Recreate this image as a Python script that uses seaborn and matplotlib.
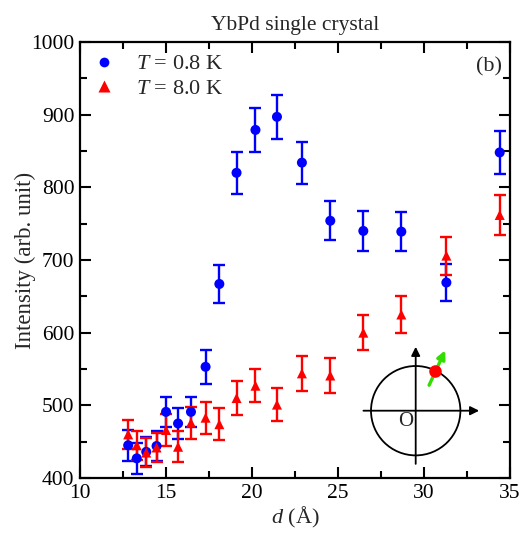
import numpy as np
import pandas as pd
import seaborn as sns
import matplotlib
matplotlib.use("Agg")
import matplotlib.pyplot as plt
from matplotlib.ticker import MultipleLocator
from matplotlib.patches import Circle

# ---- data ----
d_vals = [12.8, 13.3, 13.85, 14.45, 15.0, 15.7, 16.45, 17.3, 18.1, 19.1, 20.2, 21.45,
          22.9, 24.55, 26.47, 28.68, 31.3, 34.4]
I_08 = [445, 427, 436, 444, 491, 475, 491, 553, 667, 820, 879, 897,
        834, 754, 740, 739, 669, 848]
err_08 = [21, 21, 20, 20, 21, 21, 21, 23, 26, 29, 30, 30,
          29, 27, 27, 27, 26, 29]
I_80 = [460, 445, 435, 442, 466, 443, 476, 483, 474, 510, 527, 501,
        544, 541, 600, 625, 706, 762]
err_80 = [20, 20, 20, 20, 22, 21, 22, 22, 22, 23, 23, 23,
          24, 24, 24.5, 25, 26, 27.5]
labels = ["$\\it{T}$ = 0.8 K", "$\\it{T}$ = 8.0 K"]
x_ticks = [10, 15, 20, 25, 30, 35]
y_ticks = [400, 500, 600, 700, 800, 900, 1000]

df = pd.DataFrame({
    "d": d_vals * 2,
    "I": I_08 + I_80,
    "err": err_08 + err_80,
    "T": [labels[0]] * len(d_vals) + [labels[1]] * len(d_vals),
})

sns.set_theme(style="ticks")
plt.rcParams["font.family"] = ["Liberation Serif", "DejaVu Serif"]
plt.rcParams["mathtext.fontset"] = "custom"
plt.rcParams["mathtext.it"] = "Liberation Serif:italic"
plt.rcParams["mathtext.rm"] = "Liberation Serif"

fig = plt.figure(figsize=(5.31, 5.33), dpi=100)
ax = fig.add_axes([0.1507, 0.1032, 0.8098, 0.818])

colors = {labels[0]: "#0000ff", labels[1]: "#ff0000"}
markers = {labels[0]: "o", labels[1]: "^"}

for lab in labels:
    sub = df[df["T"] == lab]
    ax.errorbar(sub["d"], sub["I"], yerr=sub["err"], fmt="none",
                ecolor=colors[lab], elinewidth=1.7, capsize=4.2, capthick=1.7, zorder=2)

sns.scatterplot(data=df, x="d", y="I", hue="T", style="T", palette=colors,
                markers=markers, s=52, edgecolor="none", ax=ax, zorder=3,
                legend=True)

ax.set_xlim(10, 35)
ax.set_ylim(400, 1000)
ax.set_xticks(x_ticks)
ax.set_yticks(y_ticks)
ax.xaxis.set_minor_locator(MultipleLocator(2.5))
ax.yaxis.set_minor_locator(MultipleLocator(50))
ax.tick_params(which="both", direction="in", top=True, right=True, width=1.5,
               labelsize=15.5, colors="black", pad=4)
ax.tick_params(which="major", length=8)
ax.tick_params(which="minor", length=5)
for s in ax.spines.values():
    s.set_linewidth(1.6)
    s.set_color("black")

ax.set_xlabel("$\\it{d}$ (Å)", fontsize=16, labelpad=2)
ax.set_ylabel("Intensity (arb. unit)", fontsize=16.5, labelpad=-3.5)
ax.set_title("YbPd single crystal", fontsize=15.5, pad=9)

handles, lbls = ax.get_legend_handles_labels()
ax.get_legend().remove()
msizes = [7.0, 8.5]
for h, ms in zip(handles, msizes):
    if hasattr(h, "set_markersize"):
        h.set_markersize(ms)
    elif hasattr(h, "set_sizes"):
        h.set_sizes([ms ** 2])
ax.legend(handles, lbls, loc="upper left", frameon=False, fontsize=16,
          handlelength=1.36, handletextpad=0.75, borderaxespad=0.0,
          labelspacing=0.18, bbox_to_anchor=(0.0, 0.993))
ax.text(0.981, 0.966, "(b)", transform=ax.transAxes, ha="right", va="top",
        fontsize=16)

# ---- inset schematic ----
iax = fig.add_axes([359.8 / 531, 1 - 475.5 / 533, 125.2 / 531, 129.6 / 533])
iax.set_xlim(-1.25, 1.55)
iax.set_ylim(-1.45, 1.45)
iax.set_aspect("equal")
iax.axis("off")
iax.add_patch(Circle((0, 0), 1.0, fill=False, lw=1.3, color="black"))
iax.annotate("", xy=(0, 1.43), xytext=(0, -1.19),
             arrowprops=dict(arrowstyle="-|>", color="black", lw=1.3,
                             mutation_scale=13, shrinkA=0, shrinkB=0))
iax.annotate("", xy=(1.42, 0), xytext=(-1.17, 0),
             arrowprops=dict(arrowstyle="-|>", color="black", lw=1.3,
                             mutation_scale=13, shrinkA=0, shrinkB=0))
iax.text(-0.22, -0.25, "O", ha="center", va="center", fontsize=15)
iax.annotate("", xy=(0.66, 1.35), xytext=(0.3, 0.57),
             arrowprops=dict(arrowstyle="-|>", color="#33dd00", lw=2.4,
                             mutation_scale=12, shrinkA=0, shrinkB=0))
iax.plot([0.44], [0.89], "o", color="#ff0000", ms=8, zorder=5)

fig.savefig("out.png", dpi=100)
